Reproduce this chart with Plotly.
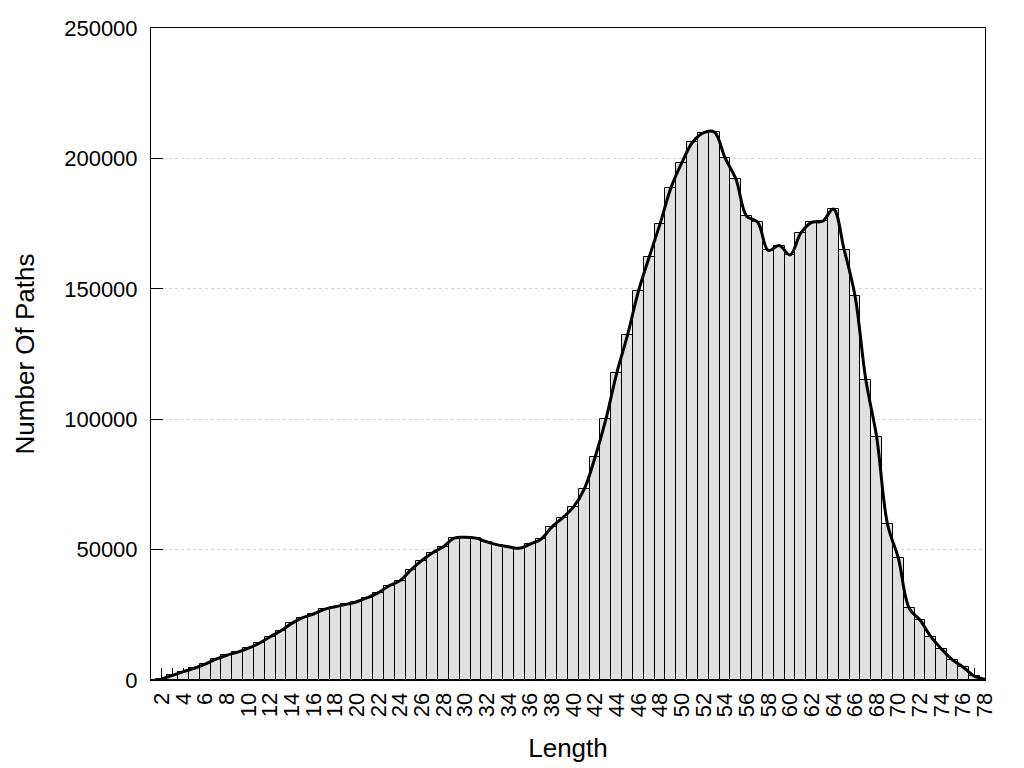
import plotly.graph_objects as go

# path length counts
lengths = list(range(1, 79))
paths = [0, 400, 1800, 3200, 4500, 6100, 8000, 9500, 10700, 12200,
         14100, 16600, 18900, 21700, 23900, 25300, 27100, 28100, 29000, 30000,
         31600, 33500, 36200, 38100, 42200, 45800, 48800, 51100, 54400, 54700,
         54400, 53000, 51800, 51100, 50500, 52100, 54000, 58600, 62200, 66300,
         73200, 85400, 100000, 117700, 132300, 149000, 162200, 174900, 188700, 198300,
         206200, 209800, 210100, 200200, 192100, 177800, 175600, 164700, 166600, 163000,
         171400, 175500, 175900, 180600, 164900, 147200, 115000, 93100, 59700, 46700,
         27500, 23000, 16600, 11800, 7700, 4900, 1500, 300]

tick_vals = list(range(2, 79))
tick_text = [str(v) if v % 2 == 0 else "" for v in tick_vals]
y_ticks = [0, 50000, 100000, 150000, 200000, 250000]

font = "Liberation Sans, Arial, sans-serif"

fig = go.Figure()
fig.add_trace(go.Bar(x=lengths, y=paths, width=1,
                     marker=dict(color="#e0e0e0", line=dict(color="black", width=1)),
                     showlegend=False))
fig.add_trace(go.Scatter(x=lengths[1:], y=paths[1:], mode="lines",
                         line=dict(color="black", width=3, shape="spline", smoothing=1),
                         showlegend=False))

# page body has an 8px offset, margins compensate for it
fig.update_layout(
    width=1024, height=768,
    margin=dict(l=143, r=47, t=20, b=96),
    plot_bgcolor="white", paper_bgcolor="white",
    font=dict(family=font, size=22, color="black"),
    bargap=0,
    xaxis=dict(range=[1, 78], tickmode="array", tickvals=tick_vals, ticktext=tick_text,
               tickangle=-90, ticks="inside", ticklen=12, tickcolor="black",
               showline=True, linecolor="black", linewidth=1, mirror=True,
               showgrid=False, zeroline=False, layer="below traces",
               ticklabelstandoff=3, automargin=False,
               title=dict(text="Length", standoff=22)),
    yaxis=dict(range=[0, 250000], tickmode="array", tickvals=y_ticks,
               ticktext=[str(v) for v in y_ticks],
               ticks="inside", ticklen=12, tickcolor="black",
               showline=True, linecolor="black", linewidth=1, mirror=True,
               showgrid=True, gridcolor="#d4d4d4", griddash="dot", gridwidth=1,
               zeroline=False, layer="below traces", ticklabelstandoff=8,
               automargin=False,
               title=dict(text="Number Of Paths", standoff=22)),
)

fig.write_html("out.html")
